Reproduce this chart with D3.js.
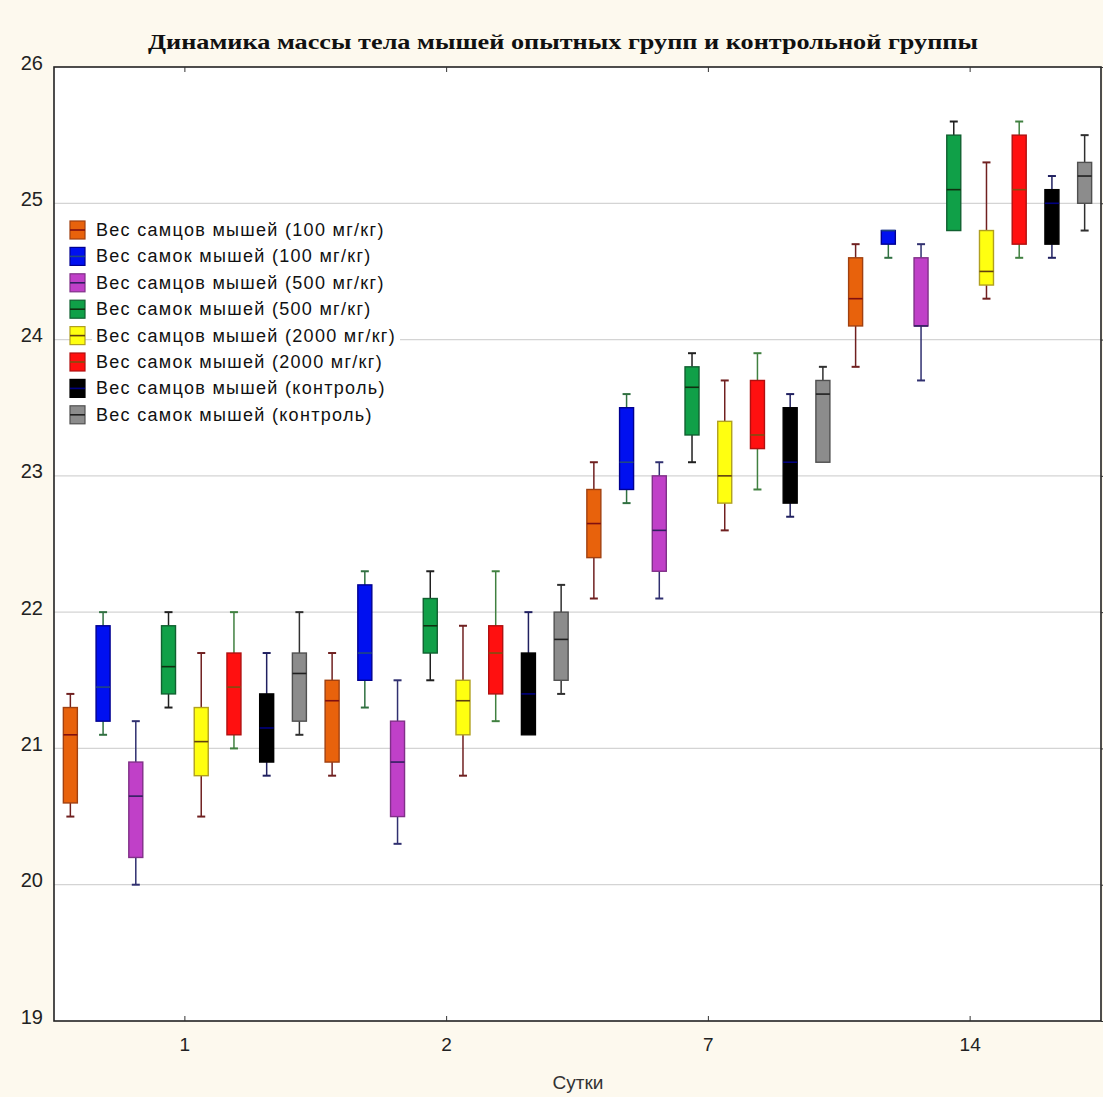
<!DOCTYPE html>
<html>
<head>
<meta charset="utf-8">
<script src="https://cdn.jsdelivr.net/npm/d3@7"></script>
<style>
  body { margin: 0; background: #fdf9ee; }
  svg { display: block; }
</style>
</head>
<body>
<div id="chart"></div>
<script>
"use strict"

const days = ["1", "2", "7", "14"]
const groupNames = [
  "Вес самцов мышей (100 мг/кг)",
  "Вес самок мышей (100 мг/кг)",
  "Вес самцов мышей (500 мг/кг)",
  "Вес самок мышей (500 мг/кг)",
  "Вес самцов мышей (2000 мг/кг)",
  "Вес самок мышей (2000 мг/кг)",
  "Вес самцов мышей (контроль)",
  "Вес самок мышей (контроль)"
]
const yTicks = [19, 20, 21, 22, 23, 24, 25, 26]

// [min, q1, median, q3, max] per day (1, 2, 7, 14)
const males100 = [[20.5, 20.6, 21.1, 21.3, 21.4], [20.8, 20.9, 21.35, 21.5, 21.7], [22.1, 22.4, 22.65, 22.9, 23.1], [23.8, 24.1, 24.3, 24.6, 24.7]]
const females100 = [[21.1, 21.2, 21.45, 21.9, 22.0], [21.3, 21.5, 21.7, 22.2, 22.3], [22.8, 22.9, 23.1, 23.5, 23.6], [24.6, 24.7, 24.8, 24.8, 24.8]]
const males500 = [[20.0, 20.2, 20.65, 20.9, 21.2], [20.3, 20.5, 20.9, 21.2, 21.5], [22.1, 22.3, 22.6, 23.0, 23.1], [23.7, 24.1, 24.1, 24.6, 24.7]]
const females500 = [[21.3, 21.4, 21.6, 21.9, 22.0], [21.5, 21.7, 21.9, 22.1, 22.3], [23.1, 23.3, 23.65, 23.8, 23.9], [24.8, 24.8, 25.1, 25.5, 25.6]]
const males2000 = [[20.5, 20.8, 21.05, 21.3, 21.7], [20.8, 21.1, 21.35, 21.5, 21.9], [22.6, 22.8, 23.0, 23.4, 23.7], [24.3, 24.4, 24.5, 24.8, 25.3]]
const females2000 = [[21.0, 21.1, 21.45, 21.7, 22.0], [21.2, 21.4, 21.7, 21.9, 22.3], [22.9, 23.2, 23.3, 23.7, 23.9], [24.6, 24.7, 25.1, 25.5, 25.6]]
const malesCtrl = [[20.8, 20.9, 21.15, 21.4, 21.7], [21.1, 21.1, 21.4, 21.7, 22.0], [22.7, 22.8, 23.1, 23.5, 23.6], [24.6, 24.7, 25.0, 25.1, 25.2]]
const femalesCtrl = [[21.1, 21.2, 21.55, 21.7, 22.0], [21.4, 21.5, 21.8, 22.0, 22.2], [23.1, 23.1, 23.6, 23.7, 23.8], [24.8, 25.0, 25.2, 25.3, 25.5]]

const series = [males100, females100, males500, females500, males2000, females2000, malesCtrl, femalesCtrl]

const fills = ["#e8620c", "#0010f0", "#c040c8", "#10a048", "#ffff10", "#ff1010", "#000000", "#8c8c8c"]
const strokes = ["#a04010", "#000090", "#803088", "#106030", "#b0a020", "#b01010", "#000000", "#505050"]
const medians = ["#801010", "#204880", "#302060", "#103010", "#604010", "#805010", "#000080", "#202020"]
const whiskers = ["#702020", "#307040", "#303070", "#202020", "#702020", "#408040", "#202060", "#303030"]

const W = 1103, H = 1097
const plot = {left: 54, right: 1101, top: 67, bottom: 1021}

const svg = d3.select("#chart").append("svg")
  .attr("width", W)
  .attr("height", H)

svg.append("rect").attr("width", W).attr("height", H).attr("fill", "#fdf9ee")
svg.append("rect")
  .attr("x", plot.left).attr("y", plot.top)
  .attr("width", plot.right - plot.left).attr("height", plot.bottom - plot.top)
  .attr("fill", "#ffffff")

const x = d3.scaleBand().domain(days).range([plot.left, plot.right])
const sub = d3.scaleBand().domain(d3.range(groupNames.length)).range([0, x.bandwidth()])
const y = d3.scaleLinear().domain([19, 26]).range([plot.bottom, plot.top])

const boxW = 14, capW = 8

// grid
svg.append("g")
  .selectAll("line")
  .data(yTicks.filter(v => v > 19 && v < 26))
  .join("line")
    .attr("x1", plot.left).attr("x2", plot.right)
    .attr("y1", d => y(d)).attr("y2", d => y(d))
    .attr("stroke", "#d4d4d4")
    .attr("stroke-width", 1.2)

// boxes
const flat = []
series.forEach((s, gi) => s.forEach((v, di) => flat.push({gi, day: days[di], v})))

const boxes = svg.append("g").selectAll("g")
  .data(flat)
  .join("g")
    .attr("transform", d => `translate(${x(d.day) + sub(d.gi) + sub.bandwidth() / 2},0)`)

boxes.append("line")
  .attr("y1", d => y(d.v[4])).attr("y2", d => y(d.v[3]))
  .attr("stroke", d => whiskers[d.gi]).attr("stroke-width", 1.5)
boxes.append("line")
  .attr("y1", d => y(d.v[1])).attr("y2", d => y(d.v[0]))
  .attr("stroke", d => whiskers[d.gi]).attr("stroke-width", 1.5)
boxes.filter(d => d.v[4] > d.v[3]).append("line")
  .attr("x1", -capW / 2).attr("x2", capW / 2)
  .attr("y1", d => y(d.v[4])).attr("y2", d => y(d.v[4]))
  .attr("stroke", d => whiskers[d.gi]).attr("stroke-width", 2)
boxes.filter(d => d.v[0] < d.v[1]).append("line")
  .attr("x1", -capW / 2).attr("x2", capW / 2)
  .attr("y1", d => y(d.v[0])).attr("y2", d => y(d.v[0]))
  .attr("stroke", d => whiskers[d.gi]).attr("stroke-width", 2)
boxes.append("rect")
  .attr("x", -boxW / 2).attr("width", boxW)
  .attr("y", d => y(d.v[3]))
  .attr("height", d => y(d.v[1]) - y(d.v[3]))
  .attr("fill", d => fills[d.gi])
  .attr("stroke", d => strokes[d.gi])
  .attr("stroke-width", 1.4)
boxes.append("line")
  .attr("x1", -boxW / 2).attr("x2", boxW / 2)
  .attr("y1", d => y(d.v[2])).attr("y2", d => y(d.v[2]))
  .attr("stroke", d => medians[d.gi]).attr("stroke-width", 1.6)

// frame
svg.append("rect")
  .attr("x", plot.left).attr("y", plot.top)
  .attr("width", plot.right - plot.left).attr("height", plot.bottom - plot.top)
  .attr("fill", "none")
  .attr("stroke", "#222")
  .attr("stroke-width", 1.6)

const tickFont = "'Liberation Sans Narrow', 'Arial Narrow', 'Liberation Sans', sans-serif"

// bottom axis (ticks pointing in)
const xAxis = svg.append("g")
  .attr("transform", `translate(0,${plot.bottom})`)
  .call(d3.axisBottom(x).tickSizeInner(-5).tickSizeOuter(0).tickPadding(17))
xAxis.select(".domain").remove()
xAxis.selectAll("line").attr("stroke", "#333")
xAxis.selectAll("text")
  .attr("font-family", tickFont)
  .attr("font-size", 19)
  .attr("fill", "#222")

// top axis ticks
const xTop = svg.append("g")
  .attr("transform", `translate(0,${plot.top})`)
  .call(d3.axisTop(x).tickSizeInner(-5).tickSizeOuter(0).tickFormat(""))
xTop.select(".domain").remove()
xTop.selectAll("line").attr("stroke", "#333")

// left axis labels
const yAxis = svg.append("g")
  .attr("transform", `translate(${plot.left},0)`)
  .call(d3.axisLeft(y).tickValues(yTicks).tickSize(0).tickPadding(11).tickFormat(d3.format("d")))
yAxis.select(".domain").remove()
yAxis.selectAll("text")
  .attr("font-family", tickFont)
  .attr("font-size", 20)
  .attr("fill", "#222")
  .attr("dy", "0.1em")

// right axis ticks
const yRight = svg.append("g")
  .attr("transform", `translate(${plot.right},0)`)
  .call(d3.axisRight(y).tickValues(yTicks).tickSize(4).tickFormat(""))
yRight.select(".domain").remove()
yRight.selectAll("line").attr("stroke", "#333")

// titles
svg.append("text")
  .attr("x", 563).attr("y", 49)
  .attr("text-anchor", "middle")
  .attr("font-family", "'Liberation Serif', 'Times New Roman', serif")
  .attr("font-weight", "bold")
  .attr("font-size", 22)
  .attr("textLength", 830)
  .attr("lengthAdjust", "spacingAndGlyphs")
  .attr("fill", "#111")
  .text("Динамика массы тела мышей опытных групп и контрольной группы")

svg.append("text")
  .attr("x", 578).attr("y", 1089)
  .attr("text-anchor", "middle")
  .attr("font-family", tickFont)
  .attr("font-size", 19)
  .attr("fill", "#333")
  .text("Сутки")

// legend
const legend = svg.append("g").attr("transform", "translate(70,230)")
const rows = legend.selectAll("g")
  .data(groupNames)
  .join("g")
    .attr("transform", (d, i) => `translate(0,${i * 26.4})`)

rows.append("rect")
  .attr("class", "bg")
  .attr("x", 22).attr("y", -12)
  .attr("height", 24)
  .attr("fill", "#ffffff")
rows.append("rect")
  .attr("x", 0).attr("y", -9).attr("width", 15).attr("height", 18)
  .attr("fill", (d, i) => fills[i])
  .attr("stroke", (d, i) => strokes[i])
  .attr("stroke-width", 1.2)
rows.append("line")
  .attr("x1", 0).attr("x2", 15)
  .attr("stroke", (d, i) => medians[i])
  .attr("stroke-width", 1.6)
rows.append("text")
  .attr("x", 26).attr("y", 6)
  .attr("font-family", "'Liberation Sans', Arial, sans-serif")
  .attr("font-size", 18)
  .attr("letter-spacing", 1.3)
  .attr("fill", "#111")
  .text(d => d)
rows.each(function() {
  const g = d3.select(this)
  const w = g.select("text").node().getComputedTextLength()
  g.select("rect.bg").attr("width", w + 8)
})
</script>
</body>
</html>
